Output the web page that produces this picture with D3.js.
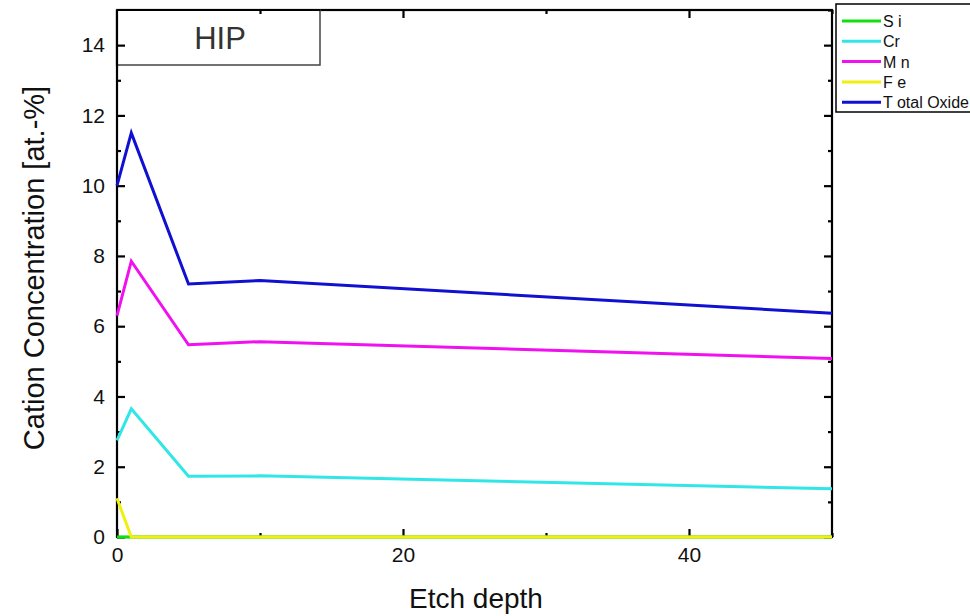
<!DOCTYPE html>
<html>
<head>
<meta charset="utf-8">
<script src="https://cdn.jsdelivr.net/npm/d3@7"></script>
<style>
  body { margin: 0; background: #fff; }
  svg { display: block; font-family: "Liberation Sans", Arial, sans-serif; }
</style>
</head>
<body>
<svg width="970" height="616"></svg>
<script>
// etch depth steps
const depths = [0, 1, 5, 10, 50];

const si = [0, 0, 0, 0, 0];
const cr = [2.75, 3.65, 1.73, 1.74, 1.37];
const mn = [6.3, 7.85, 5.47, 5.56, 5.08];
const fe = [1.1, 0, 0, 0, 0];
const totalOxide = [10.0, 11.5, 7.2, 7.3, 6.37];

const seriesNames = ['Si', 'Cr', 'Mn', 'Fe', 'Total Oxide'];
const legendLabels = ['S i', 'Cr', 'M n', 'F e', 'T otal Oxide'];
const seriesColors = ['#10e010', '#30e6e6', '#f010f0', '#f0f010', '#1010d0'];

const xMajor = [0, 20, 40];
const xMinor = [10, 30, 50];
const yMajor = [0, 2, 4, 6, 8, 10, 12, 14];
const yMinor = [1, 3, 5, 7, 9, 11, 13, 15];

const allSeries = [si, cr, mn, fe, totalOxide];

const svg = d3.select('svg');

const plotLeft = 117, plotRight = 832, plotTop = 10, plotBottom = 537;

let x = d3.scaleLinear().domain([0, 50]).range([plotLeft, plotRight]);
let y = d3.scaleLinear().domain([0, 15]).range([plotBottom, plotTop]);

// frame
svg.append('rect')
  .attr('x', plotLeft)
  .attr('y', plotTop)
  .attr('width', plotRight - plotLeft)
  .attr('height', plotBottom - plotTop)
  .attr('fill', 'none')
  .attr('stroke', '#000')
  .attr('stroke-width', 2.2);

function addAxis(axis, tx, ty, labels) {
  const g = svg.append('g')
    .attr('transform', 'translate(' + tx + ',' + ty + ')')
    .call(axis);
  g.select('.domain').remove();
  g.selectAll('.tick line').attr('stroke', '#000').attr('stroke-width', 2.2);
  g.selectAll('.tick text')
    .attr('fill', '#111')
    .style('font-size', '21px')
    .style('font-family', '"Liberation Sans", Arial, sans-serif');
  if (!labels) g.selectAll('.tick text').remove();
  return g;
}

// bottom / top
addAxis(d3.axisBottom(x).tickValues(xMajor).tickSize(-8).tickPadding(10), 0, plotBottom, true);
addAxis(d3.axisBottom(x).tickValues(xMinor).tickSize(-4).tickFormat(''), 0, plotBottom, false);
addAxis(d3.axisTop(x).tickValues(xMajor).tickSize(-8).tickFormat(''), 0, plotTop, false);
addAxis(d3.axisTop(x).tickValues(xMinor).tickSize(-4).tickFormat(''), 0, plotTop, false);

// left / right
addAxis(d3.axisLeft(y).tickValues(yMajor).tickSize(-8).tickPadding(12), plotLeft, 0, true);
addAxis(d3.axisLeft(y).tickValues(yMinor).tickSize(-4).tickFormat(''), plotLeft, 0, false);
addAxis(d3.axisRight(y).tickValues(yMajor).tickSize(-8).tickFormat(''), plotRight, 0, false);
addAxis(d3.axisRight(y).tickValues(yMinor).tickSize(-4).tickFormat(''), plotRight, 0, false);

// series lines
let line = d3.line()
  .x((d, i) => x(depths[i]))
  .y(d => y(d));

allSeries.forEach((values, k) => {
  svg.append('path')
    .datum(values)
    .attr('fill', 'none')
    .attr('stroke', seriesColors[k])
    .attr('stroke-width', 3)
    .attr('stroke-linejoin', 'miter')
    .attr('d', line);
});

// HIP label box
svg.append('rect')
  .attr('x', plotLeft)
  .attr('y', plotTop)
  .attr('width', 203)
  .attr('height', 55)
  .attr('fill', '#fff')
  .attr('stroke', '#444')
  .attr('stroke-width', 1.5);

svg.append('text')
  .attr('x', 220)
  .attr('y', 49)
  .attr('text-anchor', 'middle')
  .attr('fill', '#333')
  .style('font-size', '31px')
  .text('HIP');

// redraw top-left frame edges over the label box
svg.append('line')
  .attr('x1', plotLeft).attr('x2', 320)
  .attr('y1', plotTop).attr('y2', plotTop)
  .attr('stroke', '#000').attr('stroke-width', 2.2);
svg.append('line')
  .attr('x1', plotLeft).attr('x2', plotLeft)
  .attr('y1', plotTop).attr('y2', 66)
  .attr('stroke', '#000').attr('stroke-width', 2.2);
addAxis(d3.axisLeft(y).tickValues([14]).tickSize(-8).tickFormat(''), plotLeft, 0, false);
addAxis(d3.axisTop(x).tickValues([10]).tickSize(-4).tickFormat(''), 0, plotTop, false);

// axis titles
svg.append('text')
  .attr('transform', 'translate(44,268) rotate(-90)')
  .attr('text-anchor', 'middle')
  .attr('fill', '#111')
  .style('font-size', '29px')
  .text('Cation Concentration [at.-%]');

svg.append('text')
  .attr('x', 476)
  .attr('y', 608)
  .attr('text-anchor', 'middle')
  .attr('fill', '#111')
  .style('font-size', '28px')
  .text('Etch depth');

// legend
const legend = svg.append('g');
legend.append('rect')
  .attr('x', 836)
  .attr('y', 4)
  .attr('width', 140)
  .attr('height', 108)
  .attr('fill', '#fff')
  .attr('stroke', '#000')
  .attr('stroke-width', 1.5);

seriesNames.forEach((name, k) => {
  const ly = 21 + k * 20.3;
  legend.append('line')
    .attr('x1', 842).attr('x2', 881)
    .attr('y1', ly).attr('y2', ly)
    .attr('stroke', seriesColors[k])
    .attr('stroke-width', 3);
  legend.append('text')
    .attr('x', 883)
    .attr('y', ly + 6)
    .attr('fill', '#111')
    .style('font-size', '16px')
    .text(legendLabels[k]);
});
</script>
</body>
</html>
